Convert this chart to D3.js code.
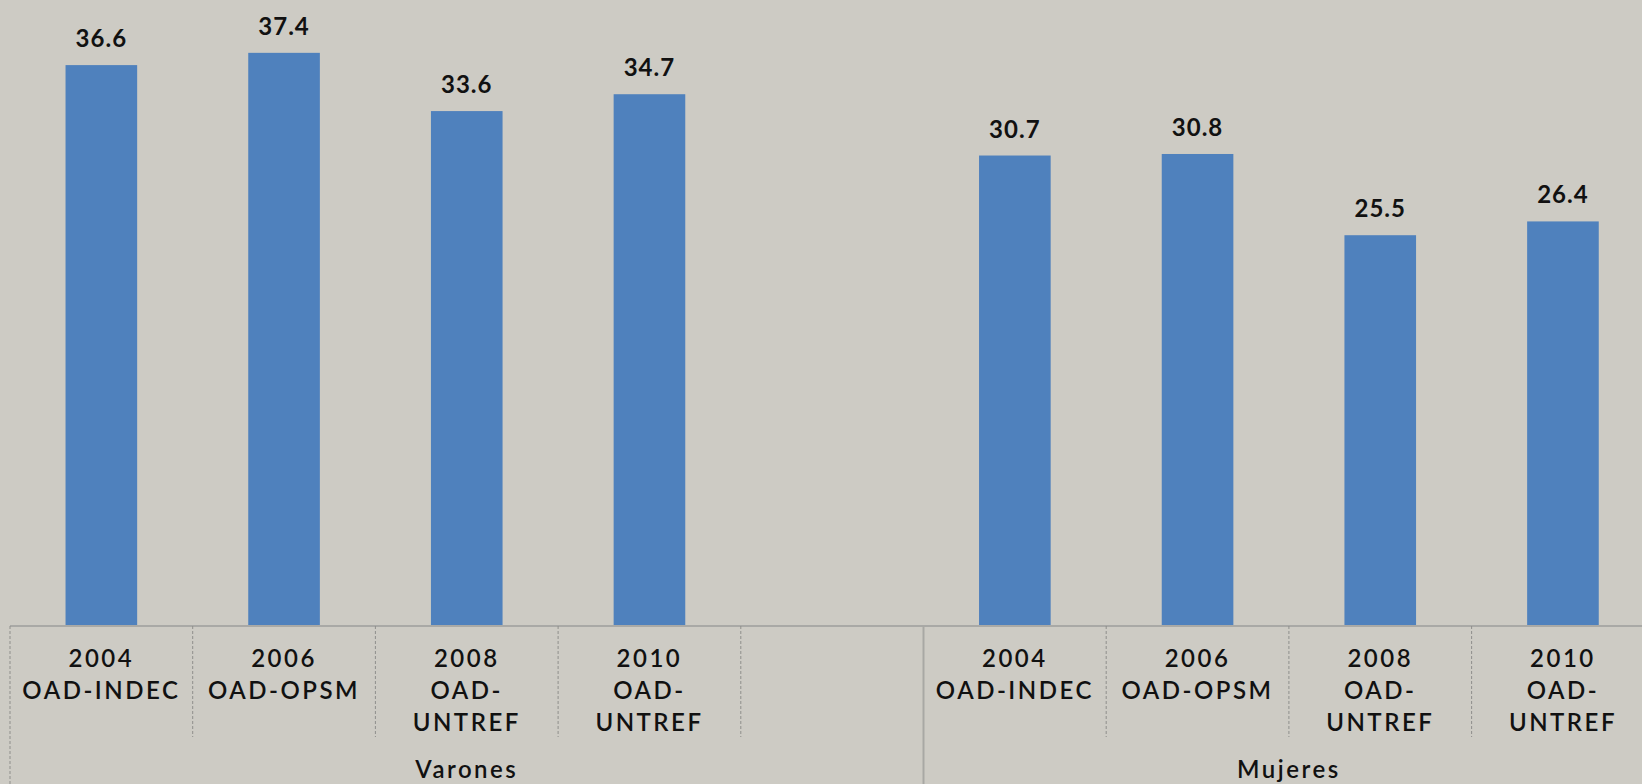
<!DOCTYPE html>
<html>
<head>
<meta charset="utf-8">
<script src="https://cdn.jsdelivr.net/npm/d3@7"></script>
<style>
  html, body { margin: 0; padding: 0; background: #cdcbc4; }
  svg { display: block; }
  text { font-family: Lato, "Open Sans", sans-serif; fill: #111; }
</style>
</head>
<body>
<svg id="chart" width="1642" height="784"></svg>
<script>
// ---- data ----
const groups = ["Varones", "Mujeres"];
const slots = ["V2004", "V2006", "V2008", "V2010", "Vgap", "M2004", "M2006", "M2008", "M2010"];
const slotGroup = ["Varones", "Varones", "Varones", "Varones", "Varones", "Mujeres", "Mujeres", "Mujeres", "Mujeres"];
const years = ["2004", "2006", "2008", "2010", "", "2004", "2006", "2008", "2010"];
const sources = [["OAD-INDEC"], ["OAD-OPSM"], ["OAD-", "UNTREF"], ["OAD-", "UNTREF"], [], ["OAD-INDEC"], ["OAD-OPSM"], ["OAD-", "UNTREF"], ["OAD-", "UNTREF"]];
const values = [36.6, 37.4, 33.6, 34.7, null, 30.7, 30.8, 25.5, 26.4];
const yTicks = [0, 40];

// ---- layout ----
const svg = d3.select("#chart");
const x0 = 10, step = 182.7;
const x = d3.scaleBand().domain(slots).range([x0, x0 + step * slots.length]).padding(0);
const y = d3.scaleLinear().domain([yTicks[0], yTicks[1]]).range([626, 13]);
const barW = x.bandwidth() * 0.392;

// bars
const data = slots.map((s, i) => ({ slot: s, v: values[i], year: years[i], src: sources[i], grp: slotGroup[i] }));
svg.append("g").selectAll("rect")
  .data(data.filter(d => d.v != null))
  .join("rect")
  .attr("x", d => x(d.slot) + (x.bandwidth() - barW) / 2)
  .attr("y", d => y(d.v))
  .attr("width", barW)
  .attr("height", d => y(0) - y(d.v))
  .attr("fill", "#4f81bd");

// value labels
svg.append("g").selectAll("text")
  .data(data.filter(d => d.v != null))
  .join("text")
  .attr("x", d => x(d.slot) + x.bandwidth() / 2)
  .attr("y", d => y(d.v) - 18)
  .attr("text-anchor", "middle")
  .style("font-size", "24px")
  .style("font-weight", "700")
  .style("letter-spacing", "1px")
  .text(d => d.v.toFixed(1));

// axis baseline
svg.append("line")
  .attr("x1", x0).attr("x2", 1642)
  .attr("y1", y(0)).attr("y2", y(0))
  .attr("stroke", "#a9a9a6").attr("stroke-width", 2);

// category separators
const sepBottom = 737;
svg.append("g").selectAll("line")
  .data(slots)
  .join("line")
  .attr("x1", d => x(d)).attr("x2", d => x(d))
  .attr("y1", y(0))
  .attr("y2", (d, i) => (i === 0 || slotGroup[i] !== slotGroup[i - 1]) ? 784 : sepBottom)
  .attr("stroke", (d, i) => (i > 0 && slotGroup[i] !== slotGroup[i - 1]) ? "#a8a8a4" : "#8f8f8c")
  .attr("stroke-width", (d, i) => (i > 0 && slotGroup[i] !== slotGroup[i - 1]) ? 2 : 1)
  .attr("stroke-dasharray", (d, i) => (i > 0 && slotGroup[i] !== slotGroup[i - 1]) ? null : "3,2");

// category labels
const catG = svg.append("g").selectAll("text")
  .data(data.filter(d => d.year))
  .join("text")
  .attr("text-anchor", "middle")
  .style("font-size", "24px")
  .style("font-weight", "600")
  .style("letter-spacing", "2.5px");
catG.each(function(d) {
  const t = d3.select(this);
  const cx = x(d.slot) + x.bandwidth() / 2;
  [d.year, ...d.src].forEach((line, k) => {
    t.append("tspan").attr("x", cx).attr("y", 667 + k * 32).text(line);
  });
});

// group labels
svg.append("g").selectAll("text")
  .data(groups)
  .join("text")
  .attr("x", g => {
    const idx = slots.map((s, i) => i).filter(i => slotGroup[i] === g);
    const a = x(slots[idx[0]]), b = x(slots[idx[idx.length - 1]]) + x.bandwidth();
    return (a + b) / 2;
  })
  .attr("y", 778)
  .attr("text-anchor", "middle")
  .style("font-size", "24px")
  .style("font-weight", "600")
  .style("letter-spacing", "2.5px")
  .text(g => g);
</script>
</body>
</html>
